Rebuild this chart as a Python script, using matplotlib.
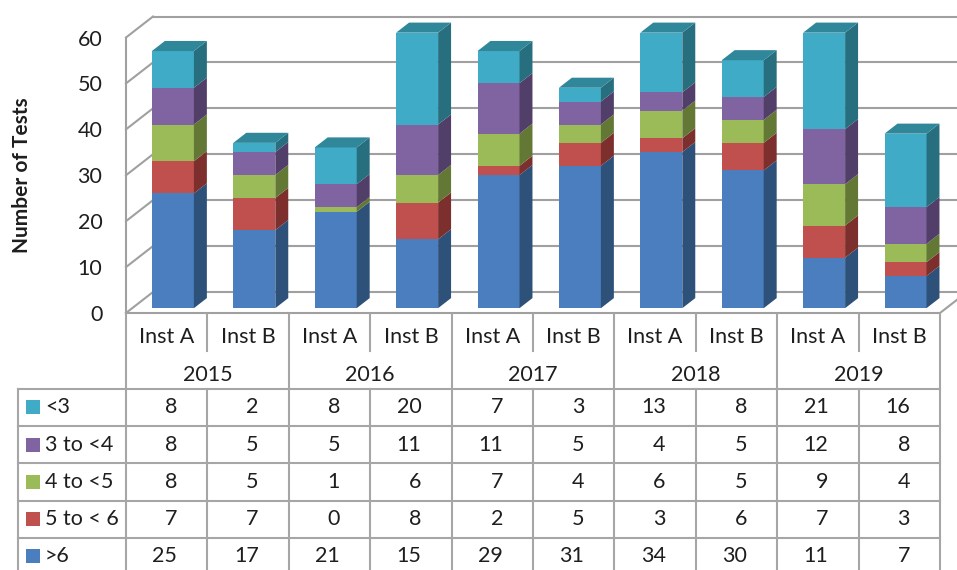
import numpy as np
import matplotlib.pyplot as plt
from matplotlib.patches import Polygon, Rectangle

plt.rcParams['font.family'] = ['Lato', 'DejaVu Sans']

# test counts per score band, columns: 2015 A/B, 2016 A/B, ... 2019 A/B
years = ['2015', '2016', '2017', '2018', '2019']
insts = ['Inst A', 'Inst B']
bands = ['<3', '3 to <4', '4 to <5', '5 to < 6', '>6']
lt3 = [8, 2, 8, 20, 7, 3, 13, 8, 21, 16]
b3to4 = [8, 5, 5, 11, 11, 5, 4, 5, 12, 8]
b4to5 = [8, 5, 1, 6, 7, 4, 6, 5, 9, 4]
b5to6 = [7, 7, 0, 8, 2, 5, 3, 6, 7, 3]
gt6 = [25, 17, 21, 15, 29, 31, 34, 30, 11, 7]

series = [lt3, b3to4, b4to5, b5to6, gt6]
# front / side colours, same order as bands
front_cols = ['#3FABC7', '#8064A2', '#9BBB59', '#C0504D', '#4A7EBE']
side_cols = ['#276F7E', '#513F69', '#637835', '#7C2F2D', '#2E5179']
top_col = '#31879A'
grid_col = '#A0A0A0'

W, H = 957, 570
fig = plt.figure(figsize=(W / 100, H / 100), dpi=100)

# plot area: front plane spans x 126..940 px, y 313..38 px for 0..60
ax = fig.add_axes([126 / W, (H - 313) / H, 814 / W, 275.5 / H])
n = len(gt6)
ax.set_xlim(-0.5, n - 0.5)
ax.set_ylim(0, 60)
px_x = 814 / n
px_y = 275.5 / 60
DX = 27 / px_x        # wall depth in data units
DY = 21 / px_y

# walls and gridlines
for v in range(0, 61, 10):
    ax.plot([-0.5, -0.5 + DX], [v, v + DY], color=grid_col, lw=1.5,
            clip_on=False, zorder=1)
    ax.plot([-0.5 + DX, n - 0.5 + DX], [v + DY, v + DY], color=grid_col,
            lw=1.5, clip_on=False, zorder=1)
ax.plot([-0.5, -0.5], [0, 60], color=grid_col, lw=1.5, clip_on=False, zorder=1)
ax.plot([-0.5, n - 0.5, n - 0.5 + DX], [0, 0, DY], color=grid_col, lw=1.5,
        clip_on=False, zorder=1)

# 3-D style stacked columns
f0, f1 = 0.23, 0.71
bw = 0.516
x = np.arange(n)
xf = x + f0 * DX
stack = [gt6, b5to6, b4to5, b3to4, lt3]
fcols = front_cols[::-1]
scols = side_cols[::-1]
cum = np.zeros(n)
d = f1 - f0
for vals, fc, sc in zip(stack, fcols, scols):
    vals = np.array(vals, dtype=float)
    ax.bar(xf, vals, bw, bottom=cum + f0 * DY, color=fc, lw=0,
           zorder=3, clip_on=False)
    for i in range(n):
        if vals[i] == 0:
            continue
        xr = xf[i] + bw / 2
        y0 = cum[i] + f0 * DY
        y1 = y0 + vals[i]
        ax.add_patch(Polygon([(xr, y0), (xr + d * DX, y0 + d * DY),
                              (xr + d * DX, y1 + d * DY), (xr, y1)],
                             closed=True, fc=sc, lw=0, zorder=3, clip_on=False))
    cum += vals

for i in range(n):
    xl = xf[i] - bw / 2
    xr = xf[i] + bw / 2
    yt = cum[i] + f0 * DY
    ax.add_patch(Polygon([(xl, yt), (xr, yt), (xr + d * DX, yt + d * DY),
                          (xl + d * DX, yt + d * DY)],
                         closed=True, fc=top_col, lw=0, zorder=3, clip_on=False))

ax.set_yticks(range(0, 61, 10))
ax.set_xticks([])
ax.tick_params(axis='y', length=0, pad=17, labelsize=15.5, labelcolor='#1E1E1E')
for s in ax.spines.values():
    s.set_visible(False)
ax.patch.set_alpha(0)

fig.text(22 / W, (H - 175) / H, 'Number of Tests', rotation=90, ha='center',
         va='center', fontsize=15, fontweight='bold', color='#1E1E1E')

# data table below the plot
row_px = 37.3
tab = fig.add_axes([126 / W, 0, 814 / W, 256 / H])
tab.set_xlim(-0.5, n - 0.5)
tab.set_ylim(256 / row_px, 0)
tab.axis('off')
x_left = -0.5 - 108 / px_x
tcol = '#A6A6A6'
bottom = 7.2
for k in range(n + 1):
    xx = k - 0.5
    if k % 2 == 0:
        tab.plot([xx, xx], [0, bottom], color=tcol, lw=1.5, clip_on=False)
    else:
        tab.plot([xx, xx], [0, 1], color=tcol, lw=1.5, clip_on=False)
        tab.plot([xx, xx], [2, bottom], color=tcol, lw=1.5, clip_on=False)
tab.plot([x_left, x_left], [2, bottom], color=tcol, lw=1.5, clip_on=False)
for r in range(2, 7):
    tab.plot([x_left, n - 0.5], [r, r], color=tcol, lw=1.5, clip_on=False)

tcolor = '#1E1E1E'
fs = 15.5
for i in range(n):
    tab.text(i, 0.62, insts[i % 2], ha='center', va='center', fontsize=fs,
             color=tcolor)
for j, yr in enumerate(years):
    tab.text(2 * j + 0.5, 1.64, yr, ha='center', va='center', fontsize=fs,
             color=tcolor)

for r, (name, vals, fc) in enumerate(zip(bands, series, front_cols)):
    yc = 2.5 + r
    sq_w = 14 / px_x
    sq_h = 14 / row_px
    tab.add_patch(Rectangle((x_left + 8 / px_x, yc - sq_h / 2), sq_w, sq_h,
                            fc=fc, lw=0, clip_on=False))
    tab.text(x_left + 27 / px_x, yc, name, ha='left', va='center',
             fontsize=fs, color=tcolor, clip_on=False)
    for i, v in enumerate(vals):
        tab.text(i + 0.13, yc, str(v), ha='right', va='center', fontsize=fs,
                 color=tcolor)

fig.savefig('out.png', dpi=100)
